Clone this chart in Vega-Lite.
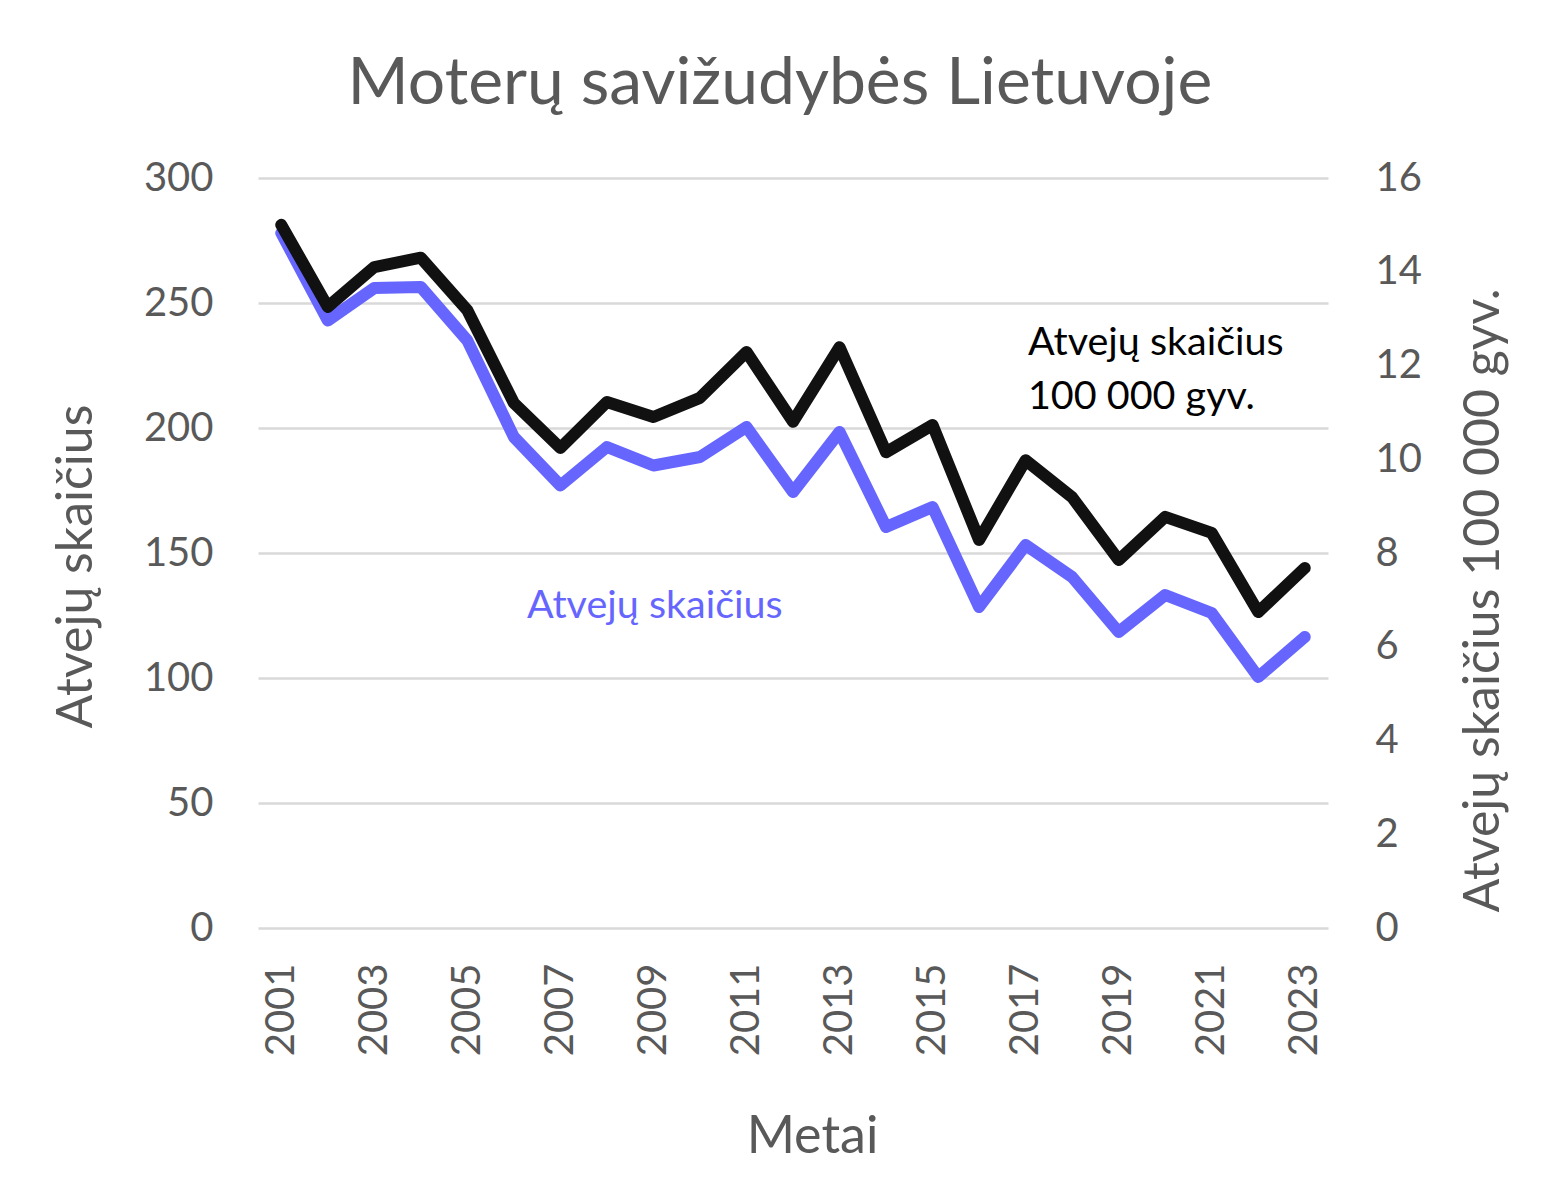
{
  "$schema": "https://vega.github.io/schema/vega-lite/v6.json",
  "width": 1070,
  "height": 750,
  "autosize": {"type": "none"},
  "padding": {"left": 258, "top": 178, "right": 224, "bottom": 251},
  "background": "white",
  "config": {
    "font": "Lato",
    "view": {"stroke": null},
    "axis": {"labelColor": "#595959", "titleColor": "#595959", "labelFont": "Lato", "titleFont": "Lato", "titleFontWeight": "normal", "domain": false, "ticks": false}
  },
  "title": {"text": "Moterų savižudybės Lietuvoje", "font": "Lato", "fontSize": 66, "fontWeight": "normal", "color": "#595959", "anchor": "middle", "frame": "bounds", "offset": 40},
  "datasets": {
    "main": [
      {"year": 2001, "count": 278, "rate": 15.0},
      {"year": 2002, "count": 243, "rate": 13.25},
      {"year": 2003, "count": 256, "rate": 14.1},
      {"year": 2004, "count": 256.4, "rate": 14.3},
      {"year": 2005, "count": 235, "rate": 13.18},
      {"year": 2006, "count": 196.4, "rate": 11.2},
      {"year": 2007, "count": 177, "rate": 10.24},
      {"year": 2008, "count": 192.4, "rate": 11.22},
      {"year": 2009, "count": 185, "rate": 10.9},
      {"year": 2010, "count": 188.4, "rate": 11.31},
      {"year": 2011, "count": 200.4, "rate": 12.29},
      {"year": 2012, "count": 174.4, "rate": 10.8},
      {"year": 2013, "count": 198.4, "rate": 12.39},
      {"year": 2014, "count": 160.4, "rate": 10.15},
      {"year": 2015, "count": 168.4, "rate": 10.73},
      {"year": 2016, "count": 128.4, "rate": 8.28},
      {"year": 2017, "count": 153.2, "rate": 9.98},
      {"year": 2018, "count": 140.4, "rate": 9.19},
      {"year": 2019, "count": 118.4, "rate": 7.85},
      {"year": 2020, "count": 133.2, "rate": 8.77},
      {"year": 2021, "count": 126, "rate": 8.43},
      {"year": 2022, "count": 100.4, "rate": 6.74},
      {"year": 2023, "count": 116.4, "rate": 7.68}
    ],
    "labels": [
      {"label": "Atvejų skaičius", "year": 2006.28, "count": 128.8, "group": "blue"},
      {"label": "Atvejų skaičius", "year": 2017.05, "count": 234, "group": "black"},
      {"label": "100 000 gyv.", "year": 2017.05, "count": 212.4, "group": "black"}
    ]
  },
  "layer": [
    {
      "layer": [
        {
          "data": {"name": "main"},
          "mark": {"type": "line", "color": "#6666FF", "strokeWidth": 12, "strokeJoin": "round", "strokeCap": "round"},
          "encoding": {
            "x": {"field": "year", "type": "quantitative", "scale": {"domain": [2000.5, 2023.5], "nice": false, "zero": false},
              "axis": {"title": "Metai", "values": [2001,2003,2005,2007,2009,2011,2013,2015,2017,2019,2021,2023], "format": "d", "grid": false, "labelAngle": -90, "labelFontSize": 40, "labelPadding": 35, "titleFontSize": 52, "titlePadding": 56, "titleX": 554}},
            "y": {"field": "count", "type": "quantitative", "scale": {"domain": [0, 300], "nice": false},
              "axis": {"title": "Atvejų skaičius", "values": [0,50,100,150,200,250,300], "grid": true, "gridColor": "#D9D9D9", "gridWidth": 2.5, "labelFontSize": 40, "labelPadding": 45, "titleFontSize": 50, "titlePadding": 42, "titleY": 388}}
          }
        },
        {
          "data": {"name": "labels"},
          "transform": [{"filter": "datum.group == 'blue'"}],
          "mark": {"type": "text", "color": "#6666FF", "fontSize": 39.5, "align": "left", "baseline": "middle", "font": "Lato"},
          "encoding": {
            "x": {"field": "year", "type": "quantitative"},
            "y": {"field": "count", "type": "quantitative"},
            "text": {"field": "label"}
          }
        },
        {
          "data": {"name": "labels"},
          "transform": [{"filter": "datum.group == 'black'"}],
          "mark": {"type": "text", "color": "#000000", "fontSize": 39.5, "align": "left", "baseline": "middle", "font": "Lato"},
          "encoding": {
            "x": {"field": "year", "type": "quantitative"},
            "y": {"field": "count", "type": "quantitative"},
            "text": {"field": "label"}
          }
        }
      ]
    },
    {
      "data": {"name": "main"},
      "mark": {"type": "line", "color": "#111111", "strokeWidth": 12, "strokeJoin": "round", "strokeCap": "round"},
      "encoding": {
        "x": {"field": "year", "type": "quantitative"},
        "y": {"field": "rate", "type": "quantitative", "scale": {"domain": [0, 16], "nice": false},
          "axis": {"title": "Atvejų skaičius 100 000 gyv.", "orient": "right", "values": [0,2,4,6,8,10,12,14,16], "grid": false, "labelFontSize": 40, "labelPadding": 47, "titleFontSize": 50, "titlePadding": 37, "titleAngle": -90, "titleBaseline": "top", "titleY": 422}}
      }
    }
  ],
  "resolve": {"scale": {"y": "independent"}}
}
